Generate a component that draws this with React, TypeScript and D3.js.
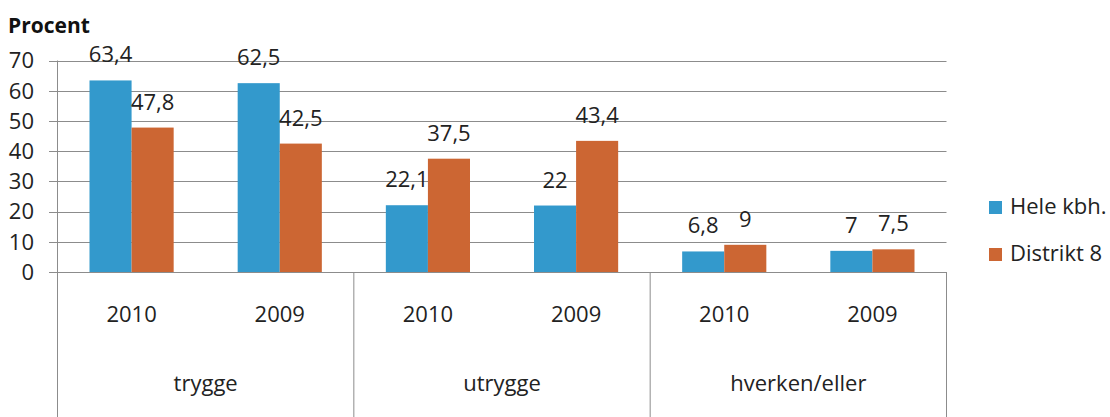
import React from 'react';
import * as d3 from 'd3';

// data
const groups = ['trygge', 'utrygge', 'hverken/eller'];
const years = ['2010', '2009'];
const seriesNames = ['Hele kbh.', 'Distrikt 8'];
const heleKbh = [63.4, 62.5, 22.1, 22, 6.8, 7];
const distrikt8 = [47.8, 42.5, 37.5, 43.4, 9, 7.5];
const yTicks = [0, 10, 20, 30, 40, 50, 60, 70];

const colors = ['#3399cc', '#cc6633'];
const font = '"Open Sans", "Noto Sans", sans-serif';

const W = 1110;
const H = 417;
const left = 57.5;
const right = 946.5;
const top = 60.5;
const bottom = 272;

const App: React.FC = () => {
  const cats = groups.flatMap((g) => years.map((yr) => `${g}|${yr}`));
  const x = d3.scaleBand<string>().domain(cats).range([left, right]).padding(0);
  const y = d3.scaleLinear().domain([0, 70]).range([bottom, top]);
  const bw = x.bandwidth();
  const inner = d3
    .scaleBand<string>()
    .domain(seriesNames)
    .range([32, bw - 32])
    .padding(0);
  const series = [heleKbh, distrikt8];
  const fmt = (v: number) => String(v).replace('.', ',');
  const gridColor = '#8c8c8c';
  const fs = 22;

  return (
    <svg width={W} height={H} style={{ position: 'absolute', left: 0, top: 0 }} fontFamily={font}>
      <rect width={W} height={H} fill="#fff" />
      <text x={8} y={33} fontSize={21} fontWeight="bold" fill="#111">
        Procent
      </text>
      {/* gridlines and y ticks */}
      {yTicks.map((t) => (
        <g key={t}>
          <line x1={49} x2={right} y1={Math.round(y(t)) + 0.5} y2={Math.round(y(t)) + 0.5} stroke={gridColor} strokeWidth={1} />
          <text x={34} y={y(t)} dy="0.36em" textAnchor="end" fontSize={fs} fill="#222">
            {t}
          </text>
        </g>
      ))}
      {/* y axis */}
      <line x1={left} x2={left} y1={top} y2={H} stroke={gridColor} />
      {/* group separators */}
      {groups.map((g, i) => {
        const xe = i === groups.length - 1 ? right : x(`${groups[i + 1]}|${years[0]}`)!;
        return <line key={g} x1={xe} x2={xe} y1={bottom} y2={H} stroke={gridColor} />;
      })}
      {/* bars */}
      {cats.map((c, ci) =>
        series.map((s, si) => {
          const bx = x(c)! + inner(seriesNames[si])!;
          const v = s[ci];
          return (
            <g key={c + si}>
              <rect x={bx} y={y(v)} width={inner.bandwidth()} height={bottom - y(v)} fill={colors[si]} />
              <text x={bx + inner.bandwidth() / 2} y={y(v) - 18} textAnchor="middle" fontSize={fs} fill="#222">
                {fmt(v)}
              </text>
            </g>
          );
        }),
      )}
      {/* category labels */}
      {cats.map((c) => (
        <text key={c} x={x(c)! + bw / 2} y={322} textAnchor="middle" fontSize={fs} fill="#222">
          {c.split('|')[1]}
        </text>
      ))}
      {groups.map((g) => (
        <text key={g} x={x(`${g}|${years[0]}`)! + bw} y={391} textAnchor="middle" fontSize={fs} fill="#222">
          {g}
        </text>
      ))}
      {/* legend */}
      {seriesNames.map((n, i) => (
        <g key={n} transform={`translate(989,${201 + i * 47})`}>
          <rect width={13} height={13} fill={colors[i]} />
          <text x={21} y={13} fontSize={fs} fill="#222">
            {n}
          </text>
        </g>
      ))}
    </svg>
  );
};

export default App;
